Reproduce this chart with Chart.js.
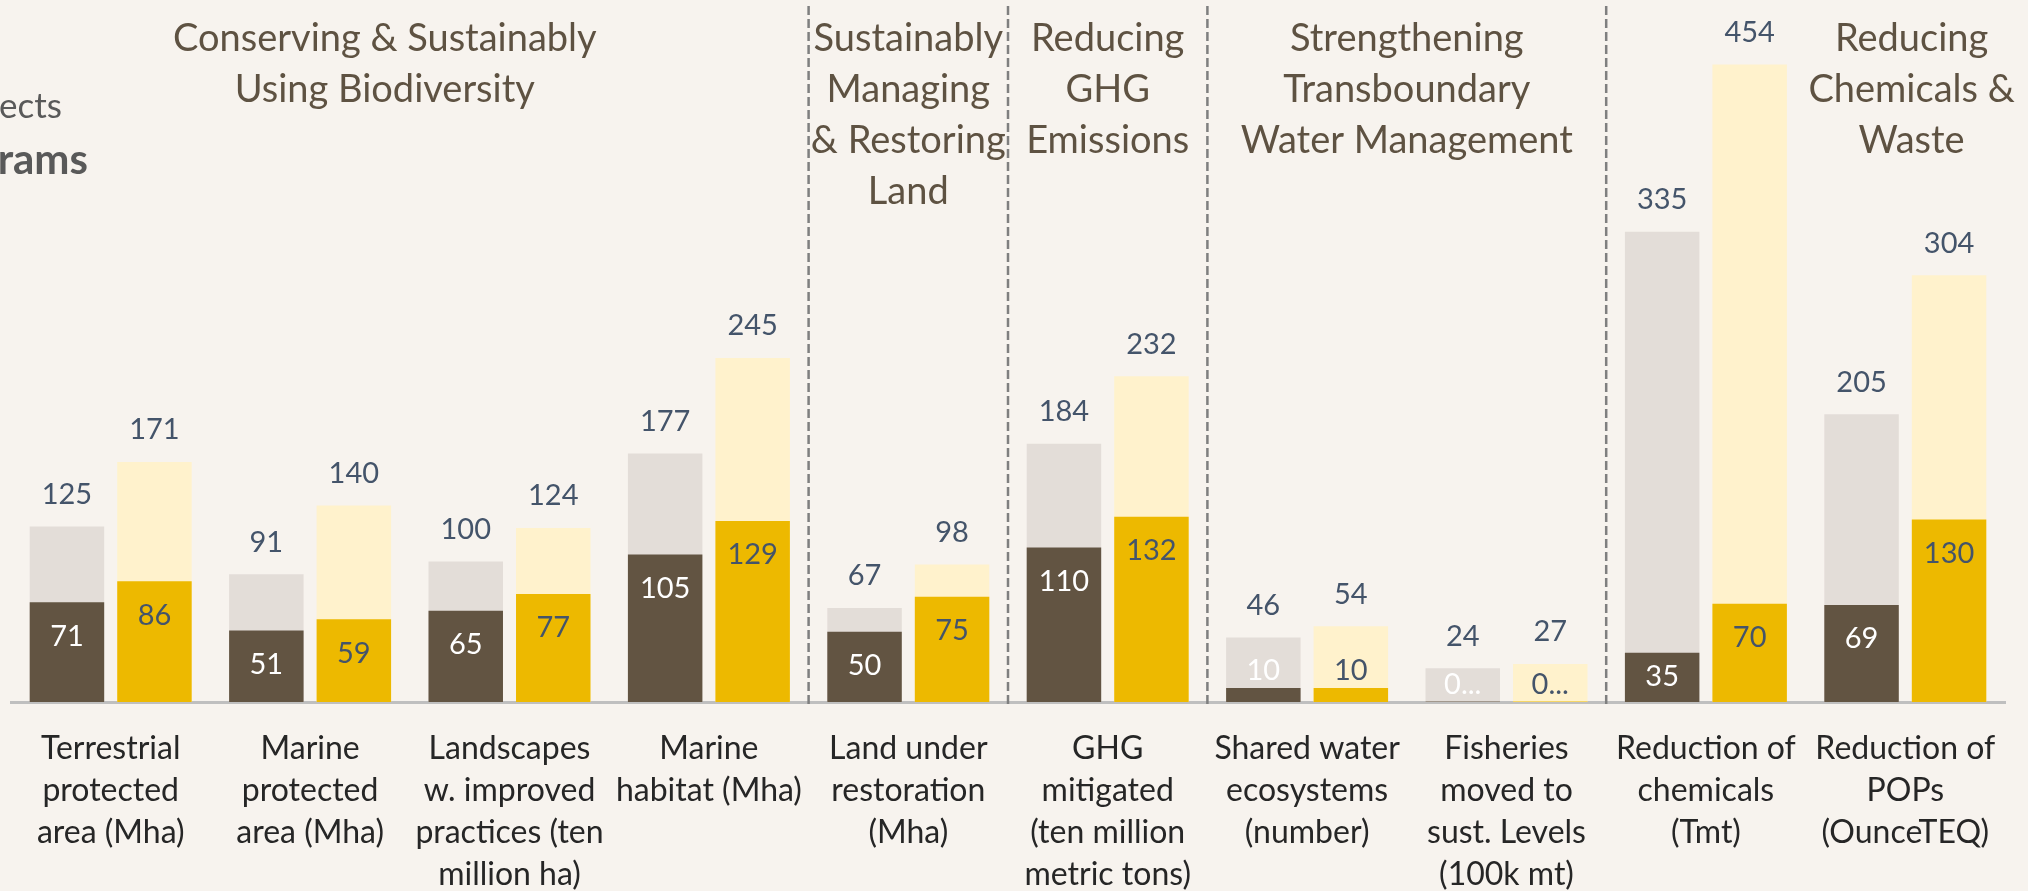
<!DOCTYPE html>
<html><head><meta charset="utf-8">
<script src="https://cdn.jsdelivr.net/npm/chart.js@4.4.1/dist/chart.umd.min.js"></script>
<style>
html,body{margin:0;padding:0;background:#F7F3EE;}
#wrap{position:relative;width:2028px;height:891px;}
</style></head><body>
<div id="wrap"><canvas id="c"></canvas></div>
<script>
// ---- data ----
const categories = [
  ["Terrestrial", "protected", "area (Mha)"],
  ["Marine", "protected", "area (Mha)"],
  ["Landscapes", "w. improved", "practices (ten", "million ha)"],
  ["Marine", "habitat (Mha)"],
  ["Land under", "restoration", "(Mha)"],
  ["GHG", "mitigated", "(ten million", "metric tons)"],
  ["Shared water", "ecosystems", "(number)"],
  ["Fisheries", "moved to", "sust. Levels", "(100k mt)"],
  ["Reduction of", "chemicals", "(Tmt)"],
  ["Reduction of", "POPs", "(OunceTEQ)"]
];
const projectsTotal    = [125, 91, 100, 177, 67, 184, 46, 24, 335, 205];
const projectsAchieved = [71, 51, 65, 105, 50, 110, 10, 0.3, 35, 69];
const programsTotal    = [171, 140, 124, 245, 98, 232, 54, 27, 454, 304];
const programsAchieved = [86, 59, 77, 129, 75, 132, 10, 0.4, 70, 130];
const groupTitles = [
  ["Conserving & Sustainably", "Using Biodiversity"],
  ["Sustainably", "Managing", "& Restoring", "Land"],
  ["Reducing", "GHG", "Emissions"],
  ["Strengthening", "Transboundary", "Water Management"],
  ["Reducing", "Chemicals &", "Waste"]
];
const groupFirst = [0, 4, 5, 6, 8];
const groupLast  = [3, 4, 5, 7, 9];
const legendLabels = ["Projects", "Programs"];

// ---- styles ----
const BG = '#F7F3EE';
const C_DARK = '#625442', C_GREY = '#E3DDD8', C_YEL = '#EDB900', C_LYEL = '#FFF2CC';
const C_LABEL = '#44546A', C_HEAD = '#5E5242';
const titleShift = [-25, 0, 0, 0, 106];

function fmt(v){ return Number.isInteger(v) ? String(v) : String(Math.floor(v)) + '...'; }

const bgPlugin = {
  id: 'bg',
  beforeDraw(chart){
    const ctx = chart.ctx; ctx.save(); ctx.fillStyle = BG;
    ctx.fillRect(0, 0, chart.width, chart.height); ctx.restore();
  }
};

const labelPlugin = {
  id: 'barLabels',
  afterDatasetsDraw(chart){
    const ctx = chart.ctx;
    ctx.save();
    ctx.font = '29px Lato, sans-serif';
    ctx.textAlign = 'center'; ctx.textBaseline = 'middle';
    chart.data.datasets.forEach((ds, di) => {
      const meta = chart.getDatasetMeta(di);
      meta.data.forEach((bar, i) => {
        const v = ds.data[i];
        let y;
        if (ds.labelMode === 'outside') {
          y = bar.y - 32;
        } else {
          const h = bar.base - bar.y;
          y = h >= 40 ? Math.min(bar.y + 34, bar.base - 25) : bar.y - 17;
        }
        ctx.fillStyle = ds.labelColor;
        ctx.fillText(fmt(v), bar.x, y);
      });
    });
    ctx.restore();
  }
};

const decorPlugin = {
  id: 'decor',
  afterDraw(chart){
    const ctx = chart.ctx;
    const xs = chart.scales.x;
    const area = chart.chartArea;
    ctx.save();
    // separators between groups
    ctx.strokeStyle = '#7F7F7F'; ctx.lineWidth = 2.5; ctx.setLineDash([9, 4]);
    for (let g = 0; g < groupFirst.length - 1; g++) {
      const xb = (xs.getPixelForValue(groupLast[g]) + xs.getPixelForValue(groupFirst[g + 1])) / 2;
      ctx.beginPath(); ctx.moveTo(xb, 6); ctx.lineTo(xb, area.bottom + 3); ctx.stroke();
    }
    ctx.setLineDash([]);
    // group titles
    ctx.fillStyle = C_HEAD; ctx.font = '38px Lato, sans-serif';
    ctx.textAlign = 'center'; ctx.textBaseline = 'alphabetic';
    groupTitles.forEach((lines, g) => {
      const cx = xs.getPixelForValue((groupFirst[g] + groupLast[g]) / 2) + titleShift[g];
      lines.forEach((t, k) => ctx.fillText(t, cx, 51 + k * 51));
    });
    // legend text (partly cut at left edge, as in the source)
    ctx.fillStyle = '#595959'; ctx.textAlign = 'right';
    ctx.font = '35px Lato, sans-serif';
    ctx.fillText(legendLabels[0], 62, 118);
    ctx.font = 'bold 42px Lato, sans-serif';
    ctx.fillText(legendLabels[1], 88, 174);
    ctx.restore();
  }
};

new Chart(document.getElementById('c'), {
  type: 'bar',
  data: {
    labels: categories,
    datasets: [
      { label: 'Projects achieved', data: projectsAchieved, backgroundColor: C_DARK, stack: 'proj', order: 1, labelMode: 'inside', labelColor: '#FFFFFF' },
      { label: 'Projects', data: projectsTotal, backgroundColor: C_GREY, stack: 'proj', order: 2, labelMode: 'outside', labelColor: C_LABEL },
      { label: 'Programs achieved', data: programsAchieved, backgroundColor: C_YEL, stack: 'prog', order: 1, labelMode: 'inside', labelColor: C_LABEL },
      { label: 'Programs', data: programsTotal, backgroundColor: C_LYEL, stack: 'prog', order: 2, labelMode: 'outside', labelColor: C_LABEL }
    ]
  },
  options: {
    responsive: true, maintainAspectRatio: false, animation: false,
    layout: { padding: { left: 11, right: 23, top: 0, bottom: 0 } },
    datasets: { bar: { barPercentage: 0.851, categoryPercentage: 0.8777, borderWidth: 0 } },
    plugins: { legend: { display: false }, tooltip: { enabled: false } },
    scales: {
      x: {
        stacked: true, offset: true,
        grid: { display: false, drawTicks: false },
        border: { display: true, color: '#BFBFBF', width: 3 },
        ticks: { color: '#262626', font: { family: 'Lato', size: 32, lineHeight: '42px' },
                 padding: 26, maxRotation: 0, minRotation: 0, autoSkip: false },
        afterFit(s){ s.height = 189; }
      },
      y: { display: false, stacked: false, min: 0, max: 500, grid: { display: false } }
    }
  },
  plugins: [bgPlugin, labelPlugin, decorPlugin]
});
</script>
</body></html>
